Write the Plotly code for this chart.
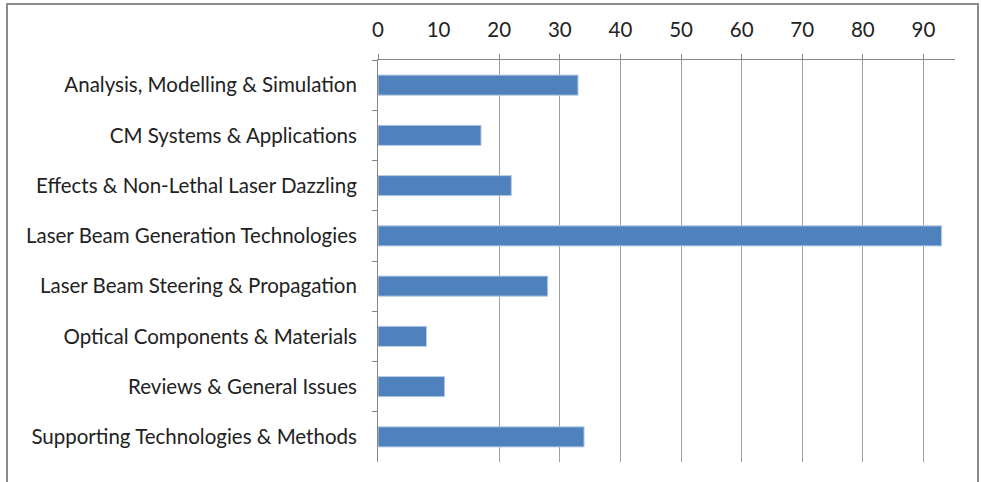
import plotly.graph_objects as go

categories = [
    "Analysis, Modelling & Simulation",
    "CM Systems & Applications",
    "Effects & Non-Lethal Laser Dazzling",
    "Laser Beam Generation Technologies",
    "Laser Beam Steering & Propagation",
    "Optical Components & Materials",
    "Reviews & General Issues",
    "Supporting Technologies & Methods",
]
values = [33, 17, 22, 93, 28, 8, 11, 34]
tick_labels = [0, 10, 20, 30, 40, 50, 60, 70, 80, 90]
grid_values = [0, 20, 30, 40, 50, 60, 70, 80, 90]

FONT = "Lato"
FS = 20.5
W, H = 982, 482
L, R, T, B = 378, 27, 60, 20
PW, PH = W - L - R, H - T - B

fig = go.Figure()
fig.add_trace(go.Bar(
    x=values, y=categories, orientation="h",
    marker=dict(color="#4F81BD", line=dict(color="#B9CDE5", width=1)),
    xaxis="x", yaxis="y",
))
fig.add_trace(go.Scatter(x=[0], y=[categories[0]], mode="markers",
                         marker=dict(opacity=0), xaxis="x2", yaxis="y",
                         hoverinfo="skip", showlegend=False))

fig.update_layout(
    width=W, height=H,
    margin=dict(l=L, r=R, t=T, b=B),
    paper_bgcolor="white", plot_bgcolor="white",
    showlegend=False,
    bargap=0.6,
    font=dict(family=FONT, size=FS, color="#000000"),
    xaxis=dict(
        side="top", range=[0, 95.2], tickvals=tick_labels,
        ticktext=[str(v) for v in tick_labels],
        showgrid=False, zeroline=False, ticks="",
        showline=True, linecolor="#868686", linewidth=1,
        ticklabelstandoff=14, tickfont=dict(family=FONT, size=FS, color="#222"),
    ),
    xaxis2=dict(
        overlaying="x", side="top", range=[0, 95.2], tickvals=grid_values,
        showticklabels=False, showgrid=True, gridcolor="#A0A0A0", gridwidth=1,
        ticks="outside", ticklen=5, tickcolor="#868686", zeroline=False,
        showline=False,
    ),
    yaxis=dict(
        autorange="reversed", showgrid=False, zeroline=False,
        showline=True, linecolor="#868686", linewidth=1,
        ticks="outside", ticklen=5, tickcolor="#868686", tickson="boundaries",
        ticklabelstandoff=16, tickfont=dict(family=FONT, size=FS, color="#222"),
    ),
    shapes=[dict(type="rect", xref="paper", yref="paper",
                 x0=(7 - L) / PW, x1=(978 - L) / PW,
                 y0=(T + PH - 490) / PH, y1=(T + PH - 4) / PH,
                 line=dict(color="#8C8C8C", width=2), fillcolor="rgba(0,0,0,0)",
                 layer="below")],
)

fig.write_html("out.html", config={"displayModeBar": False},
               post_script="document.body.style.margin='0px';")
